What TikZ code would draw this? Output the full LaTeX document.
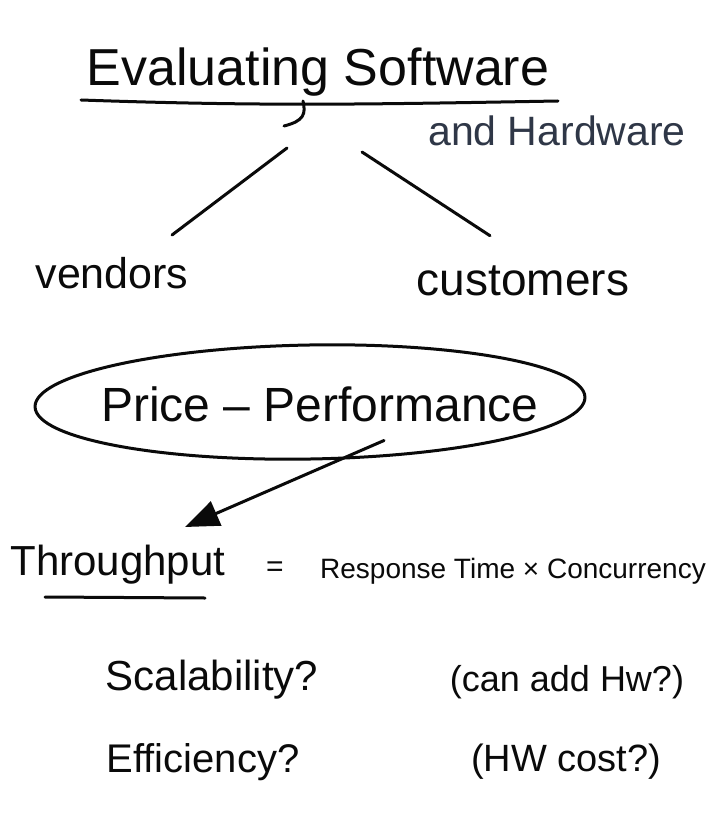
\documentclass[tikz,border=0pt]{standalone}
\usepackage{fontspec}
\setmainfont{Liberation Sans}
\usepackage{xcolor}
\definecolor{inkblack}{RGB}{10,10,10}
\definecolor{inkslate}{RGB}{47,55,71}
\usetikzlibrary{arrows.meta, shapes.geometric, positioning}

\newcommand{\fsz}[1]{\fontsize{#1}{#1}\selectfont}

\begin{document}
\begin{tikzpicture}[x=1pt, y=-1pt,
    pen/.style={draw=inkblack, line width=3pt, line cap=round, line join=round},
    word/.style={inner sep=0pt, text=inkblack}]
  \useasboundingbox[fill=white] (0,0) rectangle (720,813);

  % heading and its split
  \node[word, font=\fsz{52pt}] (title) at (318,72) {Evaluating Software};
  \node[word, font=\fsz{41pt}, text=inkslate] (hw) at (557,131) {and Hardware};
  \draw[pen] (81,100) to[out=-2,in=181] (558,101);
  \draw[pen] (303,101) .. controls (306,114) and (304,121) .. (284,126);
  \coordinate (splitL) at (287,148);
  \coordinate (splitR) at (362,152);

  \node[word, font=\fsz{43pt}] (vendors) at (112,273) {vendors};
  \node[word, font=\fsz{46pt}] (customers) at (523,281) {customers};
  \draw[pen] (splitL) -- ([xshift=60pt,yshift=22pt]vendors.north);
  \draw[pen] (splitR) -- ([xshift=-33pt,yshift=30pt]customers.north);

  % ring round price / performance
  \node[pen, ellipse, rotate=1, minimum width=550pt, minimum height=114pt] (ring) at (310,402) {};
  \node[word, font=\fsz{48pt}] (pp) at (320,404) {Price -- Performance};

  \node[word, font=\fsz{42pt}] (tput) at (118,565) {Throughput};
  \coordinate (tip) at (185,527);
  \draw[pen, -{Triangle[length=34pt,width=26pt]}] ([shift={(73,-20)}]ring.south) -- (tip);
  \draw[pen] (45,597) -- (205,598);

  \node[word, font=\fsz{30pt}] (eq) at (275,569) {=};
  \node[word, font=\fsz{28pt}] (resp) at (513,571) {Response Time × Concurrency};

  % open questions
  \node[word, font=\fsz{42pt}] (scal) at (212,680) {Scalability?};
  \node[word, font=\fsz{36pt}] (addhw) at (567,682) {(can add Hw?)};
  \node[word, font=\fsz{40pt}] (eff) at (203,762) {Efficiency?};
  \node[word, font=\fsz{38pt}] (cost) at (566,762) {(HW cost?)};
\end{tikzpicture}
\end{document}
